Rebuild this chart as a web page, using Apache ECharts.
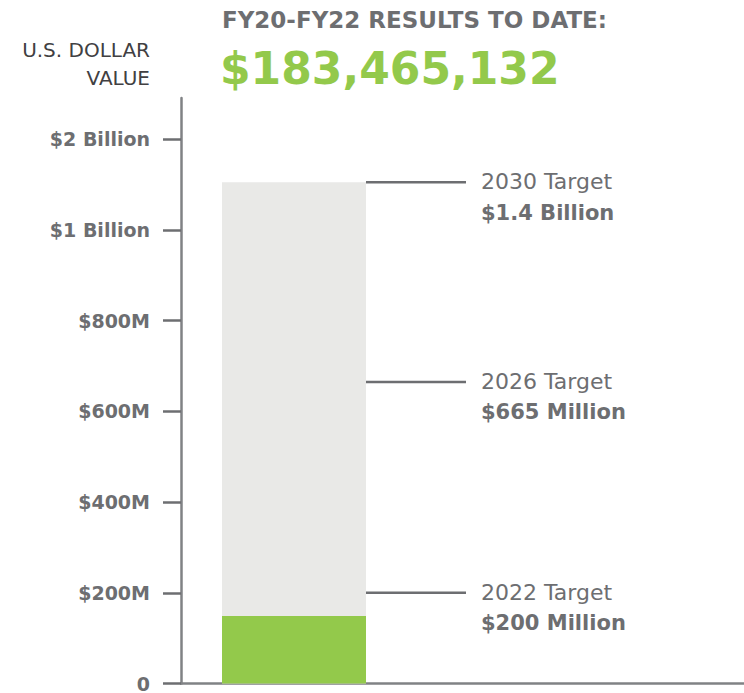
<!DOCTYPE html>
<html>
<head>
<meta charset="utf-8">
<script src="https://cdn.jsdelivr.net/npm/echarts@6/dist/echarts.min.js"></script>
<style>
  html, body { margin: 0; padding: 0; background: #fff; }
  #chart { width: 744px; height: 693px; }
</style>
</head>
<body>
<div id="chart"></div>
<script>
// y axis: evenly spaced ticks, labels are not linear above $800M
var yTickValues = [0, 200, 400, 600, 800, 1000, 1200];
var yTickLabels = ['0', '$200M', '$400M', '$600M', '$800M', '$1 Billion', '$2 Billion'];

// bar, in plotted axis units
var barX = [113];
var resultLevel = [149];    // green: results to date
var totalLevel = [1105];    // grey: up to the 2030 target level

// targets
var targetLevels = [200, 665, 1105];
var targetNames = ['2022 Target', '2026 Target', '2030 Target'];
var targetAmounts = ['$200 Million', '$665 Million', '$1.4 Billion'];
var targetLineX = [185, 285];

var ink = '#6d6e71';
var axisGrey = '#808285';
var green = '#93c94b';
var font = 'DejaVu Sans';

var chart = echarts.init(document.getElementById('chart'), null, { renderer: 'svg' });

var targetSeries = targetLevels.map(function (lvl, i) {
  return {
    type: 'line',
    symbol: 'circle',
    symbolSize: 0,
    showSymbol: true,
    lineStyle: { color: ink, width: 2.5 },
    data: [
      [targetLineX[0], lvl],
      {
        value: [targetLineX[1], lvl],
        label: {
          show: true,
          position: 'right',
          distance: 15,
          offset: [0, 15],
          formatter: '{a|' + targetNames[i] + '}\n{b|' + targetAmounts[i] + '}',
          rich: {
            a: { fontFamily: font, fontSize: 22, color: ink, lineHeight: 31 },
            b: { fontFamily: font, fontSize: 21, fontWeight: 'bold', color: ink, lineHeight: 31 }
          }
        }
      }
    ],
    z: 3
  };
});

chart.setOption({
  animation: false,
  grid: { left: 181, right: 0, top: 98, bottom: 7 },
  xAxis: {
    type: 'value',
    min: 0,
    max: 563,
    axisLine: { show: true, lineStyle: { color: axisGrey, width: 2.5 } },
    axisTick: { show: false },
    axisLabel: { show: false },
    splitLine: { show: false }
  },
  yAxis: {
    type: 'value',
    min: 0,
    max: 1291,
    axisLine: { show: true, lineStyle: { color: axisGrey, width: 2.5 } },
    axisTick: {
      show: true,
      length: 18,
      customValues: yTickValues,
      lineStyle: { color: ink, width: 2.5 }
    },
    axisLabel: {
      customValues: yTickValues,
      margin: 31,
      color: ink,
      fontFamily: font,
      fontSize: 19,
      fontWeight: 'bold',
      formatter: function (v) {
        var i = yTickValues.indexOf(v);
        return i < 0 ? '' : yTickLabels[i];
      }
    },
    splitLine: { show: false }
  },
  graphic: [
    {
      type: 'text', x: 150, y: 50,
      style: { text: 'U.S. DOLLAR', align: 'right', verticalAlign: 'middle',
        fontFamily: font, fontSize: 20, fill: '#414042' }
    },
    {
      type: 'text', x: 150, y: 78,
      style: { text: 'VALUE', align: 'right', verticalAlign: 'middle',
        fontFamily: font, fontSize: 20, fill: '#414042' }
    },
    {
      type: 'text', x: 222, y: 20,
      style: { text: 'FY20-FY22 RESULTS TO DATE:', verticalAlign: 'middle',
        fontFamily: font, fontSize: 23, fontWeight: 'bold', fill: ink }
    },
    {
      type: 'text', x: 220, y: 68,
      style: { text: '$183,465,132', verticalAlign: 'middle',
        fontFamily: font, fontSize: 44, fontWeight: 'bold', fill: green }
    }
  ],
  series: [
    {
      type: 'bar',
      barWidth: 144,
      barGap: '-100%',
      itemStyle: { color: '#e9e9e7' },
      data: barX.map(function (x, i) { return [x, totalLevel[i]]; }),
      z: 2
    },
    {
      type: 'bar',
      barWidth: 144,
      barGap: '-100%',
      itemStyle: { color: green },
      data: barX.map(function (x, i) { return [x, resultLevel[i]]; }),
      z: 2
    }
  ].concat(targetSeries)
});
</script>
</body>
</html>
